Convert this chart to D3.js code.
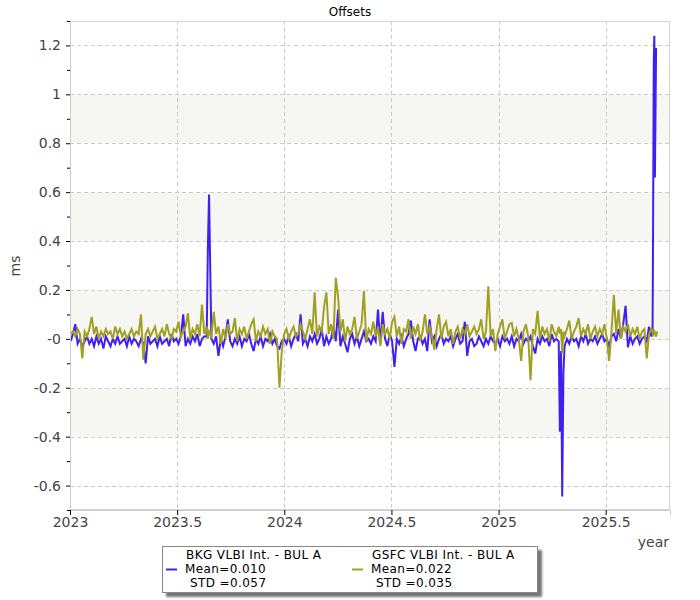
<!DOCTYPE html>
<html><head><meta charset="utf-8">
<script src="https://cdn.jsdelivr.net/npm/d3@7"></script>
<style>body{margin:0;background:#fff} svg{display:block}</style>
</head><body><svg id="c" width="700" height="600"></svg>
<script>
const title = "Offsets";
const xLabel = "year";
const yLabel = "ms";
const seriesNames = ["BKG VLBI Int. - BUL A", "GSFC VLBI Int. - BUL A"];
const seriesMean = ["0.010", "0.022"];
const seriesStd = ["0.057", "0.035"];
const seriesColors = ["#4020f0", "#a0a022"];
const xTicks = [2023, 2023.5, 2024, 2024.5, 2025, 2025.5];
const xTickLabels = ["2023", "2023.5", "2024", "2024.5", "2025", "2025.5"];
const yTicks = [-0.6, -0.4, -0.2, 0, 0.2, 0.4, 0.6, 0.8, 1, 1.2];
const yTickLabels = ["-0.6", "-0.4", "-0.2", "-0", "0.2", "0.4", "0.6", "0.8", "1", "1.2"];
const yMinorTicks = [-0.7, -0.5, -0.3, -0.1, 0.1, 0.3, 0.5, 0.7, 0.9, 1.1, 1.3];
const bands = [[-0.4, -0.2], [0, 0.2], [0.4, 0.6], [0.8, 1.0]];

// session day counted from 2023-01-01
const sessionDay = [
1,5,9,13,17,21,25,29,33,37,
41,45,49,53,57,61,65,69,73,77,
81,85,89,93,97,101,105,109,113,117,
121,125,129,133,137,141,145,149,153,157,
161,165,169,173,177,181,185,189,193,197,
201,205,209,213,217,221,225,229,233,
235,237,
241,245,249,253,257,261,265,269,273,277,
281,285,289,293,297,301,305,309,313,317,
321,325,329,333,337,341,345,349,353,357,
361,365,369,373,377,381,385,389,393,397,
401,405,409,413,417,421,425,429,433,437,
441,445,449,453,457,461,465,469,473,477,
481,485,489,493,497,501,505,509,513,517,
521,525,529,533,537,541,545,549,553,557,
561,565,569,573,577,581,585,589,593,597,
601,605,609,613,617,621,625,629,633,637,
641,645,649,653,657,661,665,669,673,677,
681,685,689,693,697,701,705,709,713,717,
721,725,729,733,737,741,745,749,753,757,
761,765,769,773,777,781,785,789,793,797,
801,805,809,813,817,821,825,829,833,
835,837,839,841,843,
847,851,855,859,863,867,871,875,879,883,
887,891,895,899,903,907,911,915,919,923,
927,931,935,939,943,947,951,955,959,963,
967,971,975,979,983,987,991,
993,994,995,996,997,999,1001
];

const bkg = [
-0.01,0.02,0.06,-0.02,0.00,-0.03,-0.01,0.01,-0.02,0.00,
-0.03,0.01,-0.02,0.00,-0.04,0.01,-0.01,-0.03,0.00,-0.02,
0.01,-0.02,-0.01,0.00,-0.03,0.01,-0.02,0.00,-0.01,-0.03,
0.00,-0.02,-0.10,0.01,-0.02,-0.01,0.00,-0.03,0.01,-0.02,
-0.01,0.00,-0.03,0.02,-0.01,0.00,-0.02,0.01,0.10,-0.03,
0.00,-0.02,0.01,-0.01,0.02,-0.03,0.00,0.01,0.01,
0.37,0.59,
0.00,-0.02,0.01,-0.07,0.00,-0.03,0.01,0.08,-0.01,-0.03,
0.00,-0.02,0.01,-0.03,0.00,-0.01,0.02,-0.02,-0.05,0.00,
-0.02,0.01,-0.03,0.00,-0.01,0.02,-0.02,0.00,-0.03,-0.04,
-0.01,0.00,-0.02,0.01,-0.03,0.00,0.02,-0.01,0.10,-0.02,
0.00,-0.03,0.01,-0.01,0.02,-0.02,0.00,0.04,-0.03,0.01,
-0.02,0.00,0.05,-0.01,0.12,-0.03,0.01,-0.02,-0.055,0.00,
0.02,-0.02,0.01,-0.03,0.00,0.03,-0.01,0.00,-0.02,0.01,
-0.01,0.12,-0.02,0.11,0.00,-0.03,0.02,-0.01,-0.115,0.00,
-0.02,0.01,-0.03,0.00,0.02,0.075,-0.01,-0.05,0.00,0.01,
-0.02,0.00,-0.05,0.08,-0.01,0.01,-0.03,0.00,0.02,-0.02,
0.00,-0.01,0.01,-0.03,0.00,0.02,-0.02,-0.01,0.07,-0.07,
-0.01,0.00,-0.03,-0.02,0.01,-0.01,-0.03,0.00,-0.02,0.01,
-0.01,-0.02,0.00,-0.03,0.01,-0.01,0.00,-0.02,0.01,-0.03,
0.00,-0.01,0.02,-0.02,0.00,-0.01,0.01,-0.03,-0.06,0.00,
-0.02,0.01,-0.01,0.00,-0.03,0.02,-0.01,0.00,-0.01,
-0.38,-0.05,-0.645,-0.14,-0.03,
0.00,-0.02,0.01,-0.01,0.00,-0.03,0.01,-0.01,0.02,-0.02,
0.00,-0.01,0.01,-0.02,0.00,0.02,-0.01,0.00,-0.03,0.01,
0.02,-0.01,0.04,0.00,0.06,0.135,-0.035,0.01,-0.02,0.00,
0.01,-0.02,0.00,0.01,-0.01,0.05,0.01,
0.03,0.53,1.13,1.24,0.66,1.19,null
];

const gsfc = [
0.02,0.03,0.01,0.04,0.02,-0.08,0.03,0.01,0.04,0.09,
0.02,0.05,0.00,0.03,0.01,0.04,0.02,0.03,0.00,0.05,
0.02,0.04,0.01,0.03,0.00,0.02,0.04,0.01,0.03,0.02,
0.10,-0.085,0.02,0.04,0.01,0.03,0.05,0.00,0.02,0.04,
0.01,0.06,0.02,0.00,0.04,0.03,0.07,0.01,0.03,0.05,
0.105,0.00,0.04,0.02,0.06,0.01,0.14,0.02,0.05,
0.00,0.03,
0.01,0.11,0.02,0.05,-0.02,0.04,0.00,0.06,0.02,0.03,
0.085,-0.01,0.04,0.02,0.05,0.00,0.03,0.06,0.08,-0.01,
0.03,0.01,0.05,0.02,0.04,-0.02,0.03,0.01,0.00,-0.20,
-0.05,0.02,0.04,0.00,0.03,0.05,0.01,0.02,0.06,0.03,
0.00,0.04,0.08,0.02,0.19,0.01,0.05,0.03,0.13,0.19,
0.02,0.06,0.00,0.25,0.17,0.03,0.08,-0.01,0.05,0.02,
0.04,0.09,0.00,0.03,0.06,0.195,-0.01,0.04,0.02,0.07,
0.01,0.05,-0.03,0.06,0.02,0.04,0.00,0.07,0.09,0.01,
0.05,-0.02,0.04,0.03,0.08,0.00,0.05,0.02,0.06,-0.01,
0.03,0.10,0.02,0.05,0.01,-0.045,0.04,0.10,0.00,0.05,
0.07,0.01,0.04,-0.02,0.03,0.05,0.00,0.04,0.02,0.06,
0.01,0.03,0.05,0.02,0.04,0.08,0.00,0.03,0.215,0.01,
0.04,-0.05,0.02,0.05,0.08,0.00,0.03,0.06,0.065,0.01,
0.04,0.00,-0.09,0.03,0.06,0.01,-0.17,0.04,0.02,0.115,
0.00,0.05,0.02,0.04,-0.01,0.06,0.03,0.01,0.05,
0.02,0.04,-0.06,0.03,0.01,
0.04,0.075,0.00,0.03,0.05,0.085,0.01,0.04,0.02,0.06,
0.00,0.03,0.05,0.01,0.04,0.02,0.06,0.00,-0.09,0.03,
0.18,0.02,0.12,0.00,0.05,0.03,0.06,0.01,0.04,0.02,
0.05,0.00,0.03,0.04,-0.08,0.02,0.04,
0.03,0.01,0.04,0.02,0.03,0.01,0.03
];

const svg = d3.select("#c");
const L = 70, R = 670, T = 21, B = 510;
const x = d3.scaleLinear().domain([2023, 2025.8]).range([L, R]);
const y = d3.scaleLinear().domain([-0.7, 1.3]).range([B, T]);
const font = "'DejaVu Sans', Verdana, sans-serif";

const defs = svg.append("defs");
defs.append("clipPath").attr("id", "clip").append("rect")
  .attr("x", L).attr("y", T).attr("width", R - L).attr("height", B - T);
const f = defs.append("filter").attr("id", "sh").attr("x", "-10%").attr("y", "-20%").attr("width", "130%").attr("height", "150%");
f.append("feGaussianBlur").attr("stdDeviation", 1.2);

// bands
svg.append("g").selectAll("rect").data(bands).join("rect")
  .attr("x", L).attr("width", R - L)
  .attr("y", d => y(d[1])).attr("height", d => y(d[0]) - y(d[1]))
  .attr("fill", "#f6f6f2");

// grid
const grid = svg.append("g").attr("stroke", "#cccccc").attr("stroke-dasharray", "4,3").attr("stroke-width", 1);
grid.selectAll(".gy").data(yTicks).join("line")
  .attr("x1", L).attr("x2", R).attr("y1", d => Math.round(y(d)) + 0.5).attr("y2", d => Math.round(y(d)) + 0.5);
grid.selectAll(".gx").data(xTicks.slice(1)).join("line")
  .attr("y1", T).attr("y2", B).attr("x1", d => Math.round(x(d)) + 0.5).attr("x2", d => Math.round(x(d)) + 0.5);

// series
function pts(vals) {
  return sessionDay.map((d, i) => ({ t: 2023 + d / 365.25, v: vals[i] }));
}
const line = d3.line().defined(d => d.v != null).x(d => x(d.t)).y(d => y(d.v));
const plot = svg.append("g").attr("clip-path", "url(#clip)");
[bkg, gsfc].forEach((vals, k) => {
  plot.append("path").datum(pts(vals)).attr("d", line)
    .attr("fill", "none").attr("stroke", seriesColors[k]).attr("stroke-width", 2)
    .attr("stroke-linejoin", "miter");
});

// border
svg.append("rect").attr("x", L + 0.5).attr("y", T + 0.5).attr("width", R - L - 1).attr("height", B - T - 1)
  .attr("fill", "none").attr("stroke", "#d4d4d4");

// axes
const yAx = svg.append("g").attr("transform", `translate(${L},0)`)
  .call(d3.axisLeft(y).tickValues(yTicks).tickFormat((d, i) => yTickLabels[i]).tickSize(4).tickPadding(5));
const yMin = svg.append("g").attr("transform", `translate(${L},0)`)
  .call(d3.axisLeft(y).tickValues(yMinorTicks).tickFormat("").tickSize(3));
const xAx = svg.append("g").attr("transform", `translate(0,${B})`)
  .call(d3.axisBottom(x).tickValues(xTicks).tickFormat((d, i) => xTickLabels[i]).tickSize(5).tickPadding(2));
[yAx, yMin, xAx].forEach(g => {
  g.select(".domain").attr("stroke", "#cccccc");
  g.selectAll(".tick line").attr("stroke", "#000");
  g.selectAll("text").attr("font-family", font).attr("font-size", 14).attr("fill", "#444");
});

// labels
svg.append("text").attr("x", 350).attr("y", 16).attr("text-anchor", "middle")
  .attr("font-family", font).attr("font-size", 12).attr("fill", "#000").text(title);
svg.append("text").attr("x", 669).attr("y", 547).attr("text-anchor", "end")
  .attr("font-family", font).attr("font-size", 14).attr("fill", "#444").text(xLabel);
svg.append("text").attr("transform", "translate(20,266) rotate(-90)").attr("text-anchor", "middle")
  .attr("font-family", font).attr("font-size", 14).attr("fill", "#444").text(yLabel);

// legend
const lg = svg.append("g").attr("transform", "translate(162,546)");
lg.append("rect").attr("x", 4).attr("y", 4).attr("width", 376).attr("height", 47).attr("fill", "#777").attr("filter", "url(#sh)");
lg.append("rect").attr("x", 0.5).attr("y", 0.5).attr("width", 375).attr("height", 46).attr("fill", "#fff").attr("stroke", "#888");
const colX = [0, 186];
const rowY = [13, 27, 41];
seriesNames.forEach((n, k) => {
  const g = lg.append("g").attr("transform", `translate(${colX[k]},0)`);
  g.append("line").attr("x1", 4).attr("x2", 15).attr("y1", 23.5).attr("y2", 23.5)
    .attr("stroke", seriesColors[k]).attr("stroke-width", 2);
  const rows = [n, "Mean=" + seriesMean[k], "STD =" + seriesStd[k]];
  const rx = [24, 23, 28];
  rows.forEach((r, j) => {
    g.append("text").attr("x", rx[j]).attr("y", rowY[j])
      .attr("font-family", font).attr("font-size", 12).attr("letter-spacing", 0.4)
      .attr("fill", "#000").text(r);
  });
});
</script></body></html>
